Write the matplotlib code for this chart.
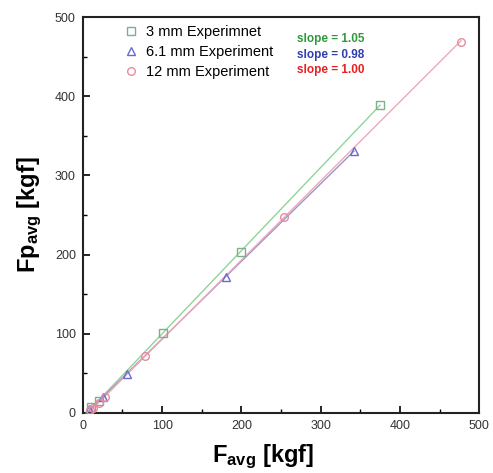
import numpy as np
import matplotlib
matplotlib.use("Agg")
import matplotlib.pyplot as plt
from matplotlib.ticker import MultipleLocator

plt.rcParams['font.family'] = ['Liberation Sans', 'DejaVu Sans']
plt.rcParams['mathtext.fontset'] = 'custom'
plt.rcParams['mathtext.rm'] = 'Liberation Sans'
plt.rcParams['mathtext.bf'] = 'Liberation Sans:bold'

# measured average forces (x) vs predicted (y), kgf
x_3mm = [10, 20, 101, 200, 375]
y_3mm = [8, 15, 101, 203, 389]
x_61mm = [8, 25, 56, 181, 342]
y_61mm = [5, 20, 49, 172, 331]
x_12mm = [9, 13, 21, 28, 78, 254, 477]
y_12mm = [4, 6, 13, 20, 72, 247, 469]

labels = ['3 mm Experimnet', '6.1 mm Experiment', '12 mm Experiment']
slopes = [1.05, 0.98, 1.00]
slope_colors = ['#2f9a3c', '#2f3fb0', '#e82020']

fig = plt.figure(figsize=(4.93, 4.73), dpi=100)
ax = fig.add_axes([0.168, 0.127, 0.804, 0.837])

series = [(x_3mm, y_3mm, 's', '#7fae8a', '#8fd49a'),
          (x_61mm, y_61mm, '^', '#6a6ad0', '#9a96c8'),
          (x_12mm, y_12mm, 'o', '#e88aa0', '#f0a8b8')]

for (x, y, m, mc, lc), lab, k in zip(series, labels, slopes):
    x = np.array(x, dtype=float)
    y = np.array(y, dtype=float)
    b = y.mean() - k * x.mean()
    xl = np.array([x.min(), x.max()])
    ax.plot(xl, k * xl + b, color=lc, lw=1.0, zorder=2)
    ax.plot(x, y, m, ms=5.5, mfc='none', mec=mc, mew=1.0, label=lab, zorder=3)

leg = ax.legend(loc='upper left', bbox_to_anchor=(0.07, 1.012), frameon=False,
                fontsize=10.5, handletextpad=0.5, labelspacing=0.4,
                handlelength=1.0)

for i, (k, c) in enumerate(zip(slopes, slope_colors)):
    ax.text(0.54, 0.945 - i * 0.04, 'slope = %.2f' % k, color=c,
            fontsize=8.5, fontweight='bold', transform=ax.transAxes, va='center')

ax.set_xlim(0, 500)
ax.set_ylim(0, 500)
ax.xaxis.set_major_locator(MultipleLocator(100))
ax.xaxis.set_minor_locator(MultipleLocator(50))
ax.yaxis.set_major_locator(MultipleLocator(100))
ax.yaxis.set_minor_locator(MultipleLocator(50))
ax.tick_params(which='major', direction='in', length=5, width=1.2, labelsize=9,
               labelcolor='#333333', pad=5)
ax.tick_params(which='minor', direction='in', length=3, width=1.0)
for s in ax.spines.values():
    s.set_linewidth(1.5)
    s.set_color('#222222')

ax.set_xlabel(r'$\mathbf{F_{avg}}$ $\mathbf{[kgf]}$', fontsize=17)
ax.xaxis.set_label_coords(0.455, -0.074, transform=ax.transAxes)
ax.xaxis.label.set_va('top')
ax.set_ylabel(r'$\mathbf{Fp_{avg}}$ $\mathbf{[kgf]}$', fontsize=17, labelpad=8)

fig.savefig('out.png', dpi=100)
